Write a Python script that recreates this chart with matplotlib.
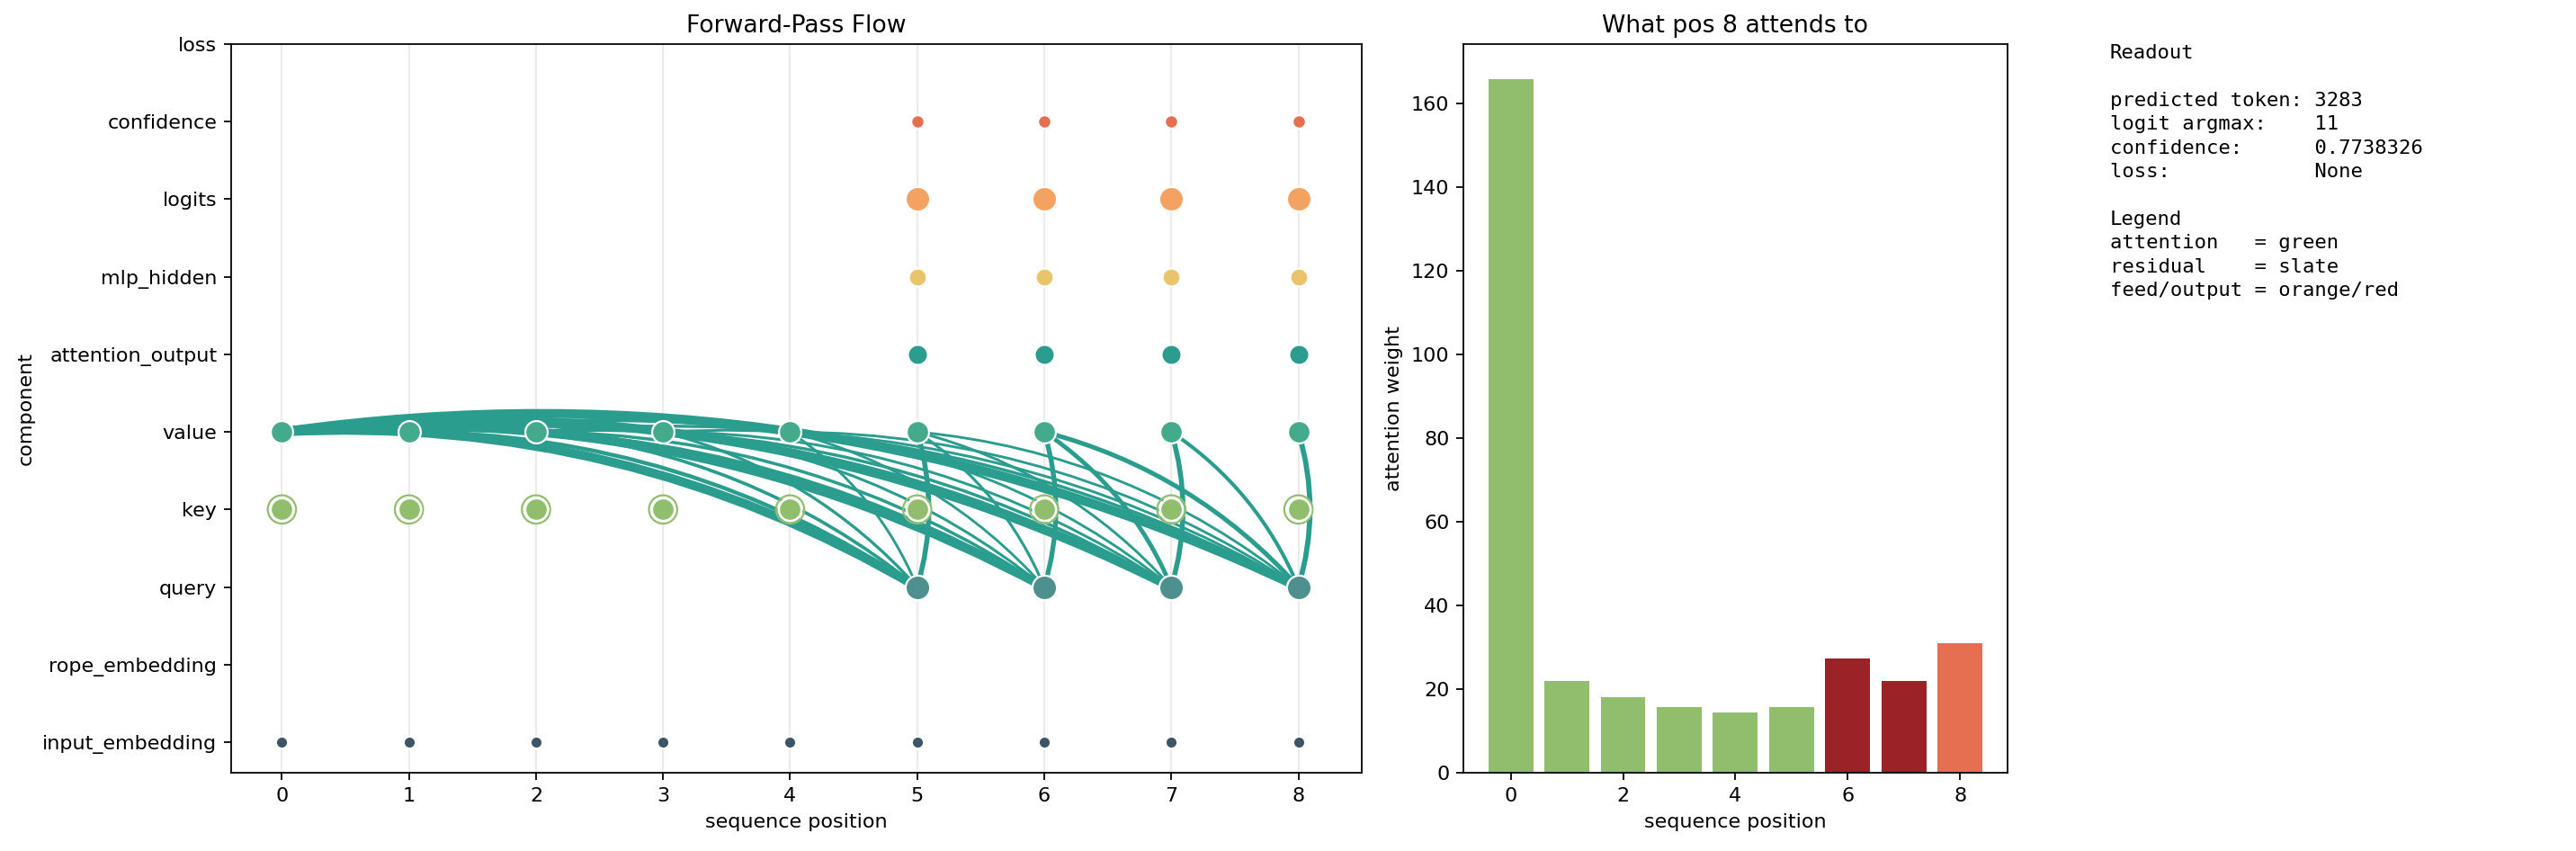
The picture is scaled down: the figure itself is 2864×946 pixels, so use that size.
import matplotlib
matplotlib.use("Agg")
import matplotlib.pyplot as plt
from matplotlib.patches import FancyArrowPatch

# y-axis rows of the flow plot, bottom to top
components = ["input_embedding", "rope_embedding", "query", "key", "value",
              "attention_output", "mlp_hidden", "logits", "confidence", "loss"]
positions = [0, 1, 2, 3, 4, 5, 6, 7, 8]
query_positions = [5, 6, 7, 8]

# attention weights (value position -> weight) for each query position
attn_q5 = [150.0, 24.0, 20.0, 18.0, 16.0, 30.0]
attn_q6 = [155.0, 23.0, 19.0, 16.5, 15.0, 17.0, 29.0]
attn_q7 = [160.0, 22.0, 18.5, 16.0, 14.5, 16.0, 26.0, 30.0]
attn_q8 = [166.0, 22.0, 18.2, 15.8, 14.5, 15.7, 27.5, 22.0, 31.0]
attn = {5: attn_q5, 6: attn_q6, 7: attn_q7, 8: attn_q8}

bar_colors = ["#90be6d", "#90be6d", "#90be6d", "#90be6d", "#90be6d",
              "#90be6d", "#9b2226", "#9b2226", "#e76f51"]

readout = (
    "Readout\n"
    "\n"
    "predicted token: 3283\n"
    "logit argmax:    11\n"
    "confidence:      0.7738326\n"
    "loss:            None\n"
    "\n"
    "Legend\n"
    "attention   = green\n"
    "residual    = slate\n"
    "feed/output = orange/red"
)

# component -> (positions, color, marker size)
nodes = {
    "input_embedding": (positions, "#3d5566", 36),
    "value": (positions, "#43aa8b", 125),
    "query": (query_positions, "#4d908e", 150),
    "attention_output": (query_positions, "#2a9d8f", 100),
    "mlp_hidden": (query_positions, "#e9c46a", 80),
    "logits": (query_positions, "#f4a261", 150),
    "confidence": (query_positions, "#e76f51", 44),
}

fig = plt.figure(figsize=(2864 / 160, 946 / 160), dpi=160)
ax = fig.add_axes([0.0897, 0.0915, 0.4390, 0.8567])
ax2 = fig.add_axes([0.5681, 0.0915, 0.2112, 0.8567])
ax3 = fig.add_axes([0.819, 0.0915, 0.17, 0.8567])

yidx = {c: i for i, c in enumerate(components)}

# --- left: forward-pass flow ---
for x in positions:
    ax.axvline(x, color="#ebebeb", lw=1.0, zorder=0)

for q in query_positions:
    for k, w in enumerate(attn[q]):
        lw = min(max(w / 12.0, 1.3), 4.5)
        arc = FancyArrowPatch((k, yidx["value"]), (q, yidx["query"]),
                              connectionstyle="arc3,rad=-0.15",
                              arrowstyle="-", color="#2a9d8f", lw=lw,
                              shrinkA=0, shrinkB=0, zorder=2)
        ax.add_patch(arc)

# key nodes: outer green ring + filled dot with white edge
ax.scatter(positions, [yidx["key"]] * len(positions), s=200,
           facecolor="none", edgecolor="#90be6d", lw=1.0, zorder=3)
ax.scatter(positions, [yidx["key"]] * len(positions), s=130,
           color="#90be6d", edgecolor="white", lw=1.2, zorder=4)

for comp, (xs, col, s) in nodes.items():
    ax.scatter(xs, [yidx[comp]] * len(xs), s=s, color=col,
               edgecolor="white", lw=1.0, zorder=4)

ax.set_xlim(-0.4, 8.5)
ax.set_ylim(-0.4, 9)
ax.set_xticks(positions)
ax.set_yticks(range(len(components)))
ax.set_yticklabels(components)
ax.set_xlabel("sequence position")
ax.set_ylabel("component")
ax.set_title("Forward-Pass Flow", fontsize=12)

# --- middle: attention of the last position ---
ax2.bar(positions, attn_q8, color=bar_colors, width=0.8)
ax2.set_xlabel("sequence position")
ax2.set_ylabel("attention weight")
ax2.set_title("What pos 8 attends to", fontsize=12)

# --- right: readout text ---
ax3.axis("off")
ax3.text(0, 1, readout, family="DejaVu Sans Mono", fontsize=10,
         va="top", ha="left", linespacing=1.4, transform=ax3.transAxes)

fig.savefig("out.png", dpi=160)
